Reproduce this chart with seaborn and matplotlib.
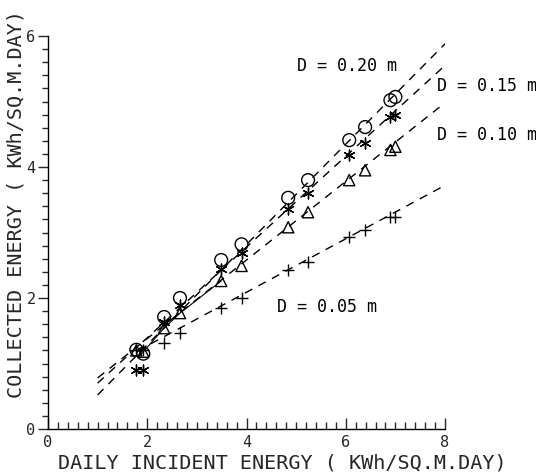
import matplotlib
matplotlib.use("Agg")
import matplotlib.pyplot as plt
import seaborn as sns
import pandas as pd
from matplotlib.ticker import MultipleLocator

# Daily incident energy (kWh/m^2/day) for each measured day
incident = [1.78, 1.92, 2.34, 2.66, 3.49, 3.90, 4.84, 5.24, 6.07, 6.39, 6.90, 7.00]

# Collected energy for each tube diameter D
collected_020 = [1.21, 1.15, 1.71, 2.00, 2.58, 2.82, 3.53, 3.80, 4.41, 4.61, 5.02, 5.07]
collected_015 = [0.90, 0.90, 1.63, 1.89, 2.44, 2.69, 3.36, 3.60, 4.18, 4.37, 4.76, 4.79]
collected_010 = [1.20, 1.18, 1.54, 1.77, 2.26, 2.49, 3.08, 3.31, 3.80, 3.95, 4.26, 4.31]
collected_005 = [1.20, 1.20, 1.31, 1.47, 1.85, 2.00, 2.43, 2.55, 2.93, 3.04, 3.24, 3.24]

# Fitted straight lines (end points) for each diameter
diameters = ["0.20", "0.15", "0.10", "0.05"]
fit_x0 = [1.0, 1.0, 1.0, 1.8]
fit_x1 = [8.0, 8.0, 8.0, 8.0]
fit_y0 = [0.52, 0.70, 0.78, 1.19]
fit_y1 = [5.88, 5.55, 4.98, 3.72]

# Label anchor positions (data units)
label_x = [5.02, 7.84, 7.84, 4.62]
label_y = [5.54, 5.24, 4.49, 1.86]

x_ticks = [0, 2, 4, 6, 8]
y_ticks = [0, 2, 4, 6]

sns.set_theme(style="ticks")
plt.rcParams["font.family"] = ["DejaVu Sans Mono", "DejaVu Sans"]

fig = plt.figure(figsize=(5.36, 4.76), dpi=100)
ax = fig.add_axes([48 / 536, 1 - 429 / 476, 397 / 536, 393 / 476])

series = {
    "0.20": (collected_020, dict(marker="o", s=85, facecolors="none", edgecolors="black", linewidths=1.0)),
    "0.15": (collected_015, dict(marker=(6, 2, 0), s=60, color="black", linewidths=1.0)),
    "0.10": (collected_010, dict(marker="^", s=65, facecolors="none", edgecolors="black", linewidths=1.0)),
    "0.05": (collected_005, dict(marker="+", s=80, color="black", linewidths=1.0)),
}

# fitted lines, dashed
for d, x0, x1, y0, y1 in zip(diameters, fit_x0, fit_x1, fit_y0, fit_y1):
    line = pd.DataFrame({"x": [x0, x1], "y": [y0, y1]})
    sns.lineplot(data=line, x="x", y="y", ax=ax, color="black", lw=1.0,
                 linestyle=(0, (6, 5)), legend=False)

# measured points
for d, (vals, style) in series.items():
    pts = pd.DataFrame({"x": incident, "y": vals})
    sns.scatterplot(data=pts, x="x", y="y", ax=ax, legend=False, zorder=3, **style)

# thin solid trace through the low-irradiance D = 0.10 m points
low = pd.DataFrame({"x": incident[:5], "y": collected_010[:5]})
sns.lineplot(data=low, x="x", y="y", ax=ax, color="black", lw=0.8, legend=False,
             sort=True, estimator=None)

for d, lx, ly in zip(diameters, label_x, label_y):
    ax.text(lx, ly, f"D = {d} m", fontsize=12, ha="left", va="center", color="black")

ax.set_xlim(0, 8)
ax.set_ylim(0, 6)
ax.set_xticks(x_ticks)
ax.set_yticks(y_ticks)
ax.set_xticklabels([str(v) for v in x_ticks])
ax.set_yticklabels([str(v) for v in y_ticks])
ax.xaxis.set_minor_locator(MultipleLocator(0.2))
ax.yaxis.set_minor_locator(MultipleLocator(0.2))
ax.tick_params(axis="x", which="major", direction="in", length=8, width=1, labelsize=11, pad=4)
ax.tick_params(axis="x", which="minor", direction="in", length=5, width=1)
ax.tick_params(axis="y", which="major", direction="out", length=7, width=1, labelsize=11, pad=2)
ax.tick_params(axis="y", which="minor", direction="out", length=4, width=1)
for side in ("top", "right"):
    ax.spines[side].set_visible(False)
for side in ("left", "bottom"):
    ax.spines[side].set_linewidth(1.0)
    ax.spines[side].set_color("black")
ax.set_xlabel("")
ax.set_ylabel("")
ax.set_facecolor("white")

fig.text(282 / 536, 1 - 463 / 476, "DAILY INCIDENT ENERGY ( KWh/SQ.M.DAY)",
         fontsize=14.5, ha="center", va="center")
fig.text(16 / 536, 1 - 204 / 476, "COLLECTED ENERGY ( KWh/SQ.M.DAY)",
         fontsize=14.5, ha="center", va="center", rotation=90)

fig.savefig("out.png", dpi=100, facecolor="white")
